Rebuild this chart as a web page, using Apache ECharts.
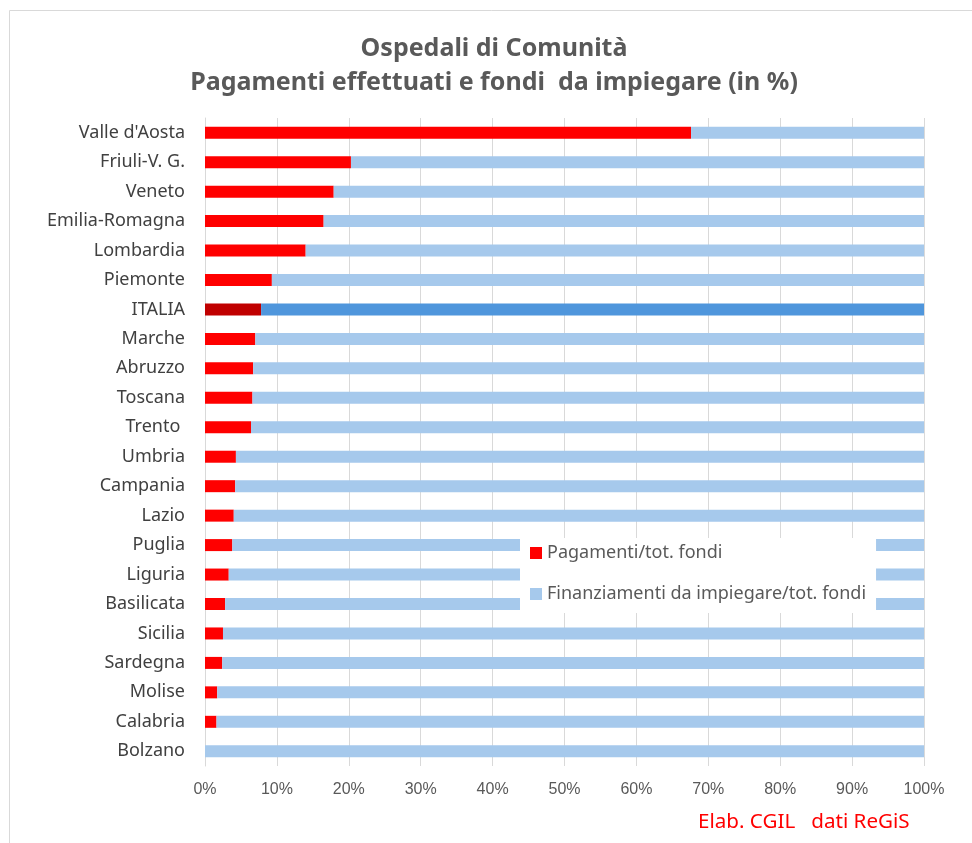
<!DOCTYPE html>
<html>
<head>
<meta charset="utf-8">
<script src="https://cdn.jsdelivr.net/npm/echarts@6/dist/echarts.min.js"></script>
<style>
  html, body { margin: 0; padding: 0; background: #fff; }
  #chart { width: 972px; height: 843px; }
</style>
</head>
<body>
<div id="chart"></div>
<script>
// regioni, dall'alto verso il basso
const regioni = [
  "Valle d'Aosta", "Friuli-V. G.", "Veneto", "Emilia-Romagna", "Lombardia",
  "Piemonte", "ITALIA", "Marche", "Abruzzo", "Toscana", "Trento ",
  "Umbria", "Campania", "Lazio", "Puglia", "Liguria", "Basilicata",
  "Sicilia", "Sardegna", "Molise", "Calabria", "Bolzano"
];
// pagamenti / tot. fondi (%)
const pagamenti = [
  67.6, 20.3, 17.9, 16.5, 14.0, 9.3, 7.8, 7.0, 6.7, 6.6, 6.4,
  4.3, 4.2, 4.0, 3.8, 3.3, 2.8, 2.5, 2.4, 1.7, 1.6, 0
];
// finanziamenti da impiegare / tot. fondi (%)
const daImpiegare = [
  32.4, 79.7, 82.1, 83.5, 86.0, 90.7, 92.2, 93.0, 93.3, 93.4, 93.6,
  95.7, 95.8, 96.0, 96.2, 96.7, 97.2, 97.5, 97.6, 98.3, 98.4, 100
];
const xTicks = [0, 10, 20, 30, 40, 50, 60, 70, 80, 90, 100];

const ROSSO = "#ff0000", AZZURRO = "#a6c9ec";
const ROSSO_IT = "#c00000", BLU_IT = "#4f96dc";

const chart = echarts.init(document.getElementById("chart"));

chart.setOption({
  animation: false,
  textStyle: { fontFamily: "Noto Sans" },
  title: {
    text: "Ospedali di Comunità\nPagamenti effettuati e fondi  da impiegare (in %)",
    left: 489,
    top: 27,
    textAlign: "center",
    textStyle: { fontSize: 25, fontWeight: "bold", color: "#595959", lineHeight: 34 }
  },
  legend: {
    orient: "vertical",
    left: 520,
    top: 538,
    padding: [6, 10, 10, 10],
    itemWidth: 12,
    itemHeight: 12,
    itemGap: 23,
    icon: "rect",
    backgroundColor: "#fff",
    textStyle: { fontSize: 18, color: "#595959" },
    data: ["Pagamenti/tot. fondi", "Finanziamenti da impiegare/tot. fondi"]
  },
  grid: { left: 205, right: 48, top: 118, bottom: 77, containLabel: false },
  xAxis: {
    type: "value",
    min: 0,
    max: 100,
    interval: 10,
    axisLine: { show: false },
    axisTick: { show: false },
    splitLine: { lineStyle: { color: "#d9d9d9", width: 1 } },
    axisLabel: {
      color: "#595959",
      fontSize: 16,
      fontFamily: "Liberation Sans",
      margin: 16,
      formatter: v => xTicks.includes(v) ? v + "%" : ""
    }
  },
  yAxis: {
    type: "category",
    inverse: true,
    data: regioni,
    axisLine: { lineStyle: { color: "#d9d9d9" } },
    axisTick: { show: false },
    axisLabel: { color: "#404040", fontSize: 18, margin: 20 }
  },
  series: [
    {
      name: "Pagamenti/tot. fondi",
      type: "bar",
      stack: "tot",
      barWidth: 12,
      itemStyle: { color: ROSSO },
      data: pagamenti.map((v, i) =>
        regioni[i] === "ITALIA" ? { value: v, itemStyle: { color: ROSSO_IT } } : v)
    },
    {
      name: "Finanziamenti da impiegare/tot. fondi",
      type: "bar",
      stack: "tot",
      barWidth: 12,
      itemStyle: { color: AZZURRO },
      data: daImpiegare.map((v, i) =>
        regioni[i] === "ITALIA" ? { value: v, itemStyle: { color: BLU_IT } } : v)
    }
  ],
  graphic: [
    {
      type: "rect",
      shape: { x: 9.5, y: 10.5, width: 1000, height: 900 },
      style: { fill: null, stroke: "#d9d9d9", lineWidth: 1 },
      silent: true
    },
    {
      type: "text",
      left: 698,
      top: 812,
      style: { text: "Elab. CGIL   dati ReGiS", fill: "#ff0000", fontSize: 20.6, fontFamily: "Noto Sans" }
    }
  ]
});
</script>
</body>
</html>
